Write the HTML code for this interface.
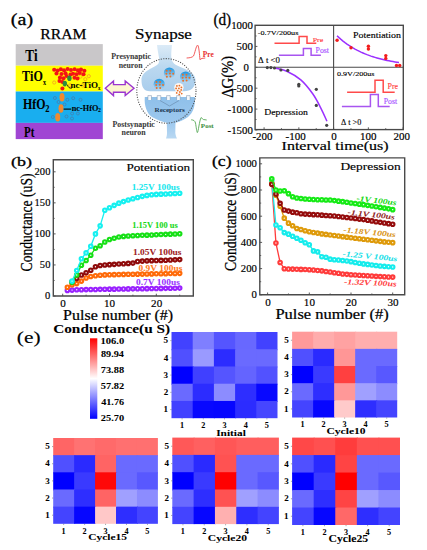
<!DOCTYPE html>
<html><head><meta charset="utf-8"><style>
html,body{margin:0;padding:0;background:#fff;}
svg{display:block;font-family:"Liberation Serif", serif;font-kerning:none;}
</style></head><body>
<svg xmlns="http://www.w3.org/2000/svg" width="427" height="550" viewBox="0 0 427 550">
<rect width="427" height="550" fill="#fff"/>
<text x="10.82" y="25.40" font-size="16.29" textLength="22.26" lengthAdjust="spacingAndGlyphs" stroke="#000" stroke-width="0.3" >(a)</text>
<text x="40.35" y="39.30" font-size="15.60" textLength="46.01" lengthAdjust="spacingAndGlyphs" stroke="#000" stroke-width="0.25" >RRAM</text>
<rect x="15.7" y="44.1" width="87.10" height="21.6" fill="#c9c7c9"/>
<rect x="15.7" y="65.7" width="87.10" height="25.8" fill="#ffff00"/>
<rect x="15.7" y="91.5" width="87.10" height="31.4" fill="#19aeef"/>
<rect x="15.7" y="122.9" width="87.10" height="16.2" fill="#a045d3"/>
<circle cx="54.2" cy="82.5" r="1.6" fill="none" stroke="#f5a020" stroke-width="0.8"/>
<circle cx="80.5" cy="76.6" r="1.6" fill="none" stroke="#f5a020" stroke-width="0.8"/>
<circle cx="85.3" cy="79.2" r="1.6" fill="none" stroke="#f5a020" stroke-width="0.8"/>
<circle cx="88.8" cy="76.2" r="1.6" fill="none" stroke="#f5a020" stroke-width="0.8"/>
<circle cx="70.2" cy="85.2" r="1.6" fill="none" stroke="#f5a020" stroke-width="0.8"/>
<circle cx="82.5" cy="85.5" r="1.6" fill="none" stroke="#f5a020" stroke-width="0.8"/>
<circle cx="60" cy="79.5" r="1.6" fill="none" stroke="#f5a020" stroke-width="0.8"/>
<circle cx="54.2" cy="69.8" r="2.05" fill="#f41414"/>
<circle cx="57.7" cy="70.5" r="2.05" fill="#f41414"/>
<circle cx="60.8" cy="69.2" r="2.05" fill="#f41414"/>
<circle cx="64" cy="70.2" r="2.05" fill="#f41414"/>
<circle cx="67.6" cy="69.0" r="2.05" fill="#f41414"/>
<circle cx="71" cy="70.0" r="2.05" fill="#f41414"/>
<circle cx="74.6" cy="69.3" r="2.05" fill="#f41414"/>
<circle cx="78" cy="70.4" r="2.05" fill="#f41414"/>
<circle cx="81" cy="69.6" r="2.05" fill="#f41414"/>
<circle cx="84.4" cy="70.8" r="2.05" fill="#f41414"/>
<circle cx="56.5" cy="73.5" r="2.05" fill="#f41414"/>
<circle cx="61.5" cy="74.0" r="2.05" fill="#f41414"/>
<circle cx="65.5" cy="73.2" r="2.05" fill="#f41414"/>
<circle cx="73" cy="73.8" r="2.05" fill="#f41414"/>
<circle cx="76.5" cy="74.3" r="2.05" fill="#f41414"/>
<circle cx="79.8" cy="73.0" r="2.05" fill="#f41414"/>
<circle cx="83.5" cy="74.2" r="2.05" fill="#f41414"/>
<circle cx="60" cy="77.5" r="2.05" fill="#f41414"/>
<circle cx="63.5" cy="78.2" r="2.05" fill="#f41414"/>
<circle cx="74.5" cy="77.8" r="2.05" fill="#f41414"/>
<circle cx="77.5" cy="78.5" r="2.05" fill="#f41414"/>
<circle cx="59.5" cy="81.0" r="2.05" fill="#f41414"/>
<circle cx="62.5" cy="82.0" r="2.05" fill="#f41414"/>
<circle cx="62.4" cy="88.5" r="2.05" fill="#f41414"/>
<circle cx="66.5" cy="76.0" r="2.05" fill="#f41414"/>
<circle cx="70.5" cy="74.5" r="2.05" fill="#f41414"/>
<ellipse cx="69.4" cy="78.3" rx="2.2" ry="2.8" fill="#2e8b3e"/>
<ellipse cx="64.8" cy="83.6" rx="2.2" ry="2.8" fill="#2e8b3e"/>
<circle cx="54.9" cy="98" r="1.5" fill="none" stroke="#52709a" stroke-width="0.6"/>
<circle cx="67.4" cy="99.8" r="1.5" fill="none" stroke="#52709a" stroke-width="0.6"/>
<circle cx="73.2" cy="98.2" r="1.5" fill="none" stroke="#52709a" stroke-width="0.6"/>
<circle cx="80.5" cy="99.8" r="1.5" fill="none" stroke="#52709a" stroke-width="0.6"/>
<circle cx="72.1" cy="113.5" r="1.5" fill="none" stroke="#52709a" stroke-width="0.6"/>
<circle cx="77.9" cy="113.5" r="1.5" fill="none" stroke="#52709a" stroke-width="0.6"/>
<circle cx="52.8" cy="117" r="1.5" fill="none" stroke="#52709a" stroke-width="0.6"/>
<circle cx="60.5" cy="110.5" r="1.5" fill="none" stroke="#52709a" stroke-width="0.6"/>
<circle cx="66.5" cy="116.5" r="1.5" fill="none" stroke="#52709a" stroke-width="0.6"/>
<circle cx="72.0" cy="118.5" r="1.5" fill="none" stroke="#52709a" stroke-width="0.6"/>
<circle cx="58.5" cy="102.0" r="1.5" fill="none" stroke="#52709a" stroke-width="0.6"/>
<circle cx="64.5" cy="104.5" r="1.5" fill="none" stroke="#52709a" stroke-width="0.6"/>
<ellipse cx="62.0" cy="97.2" rx="2.5" ry="4.2" fill="#f08a30"/>
<ellipse cx="61.0" cy="108.5" rx="2.5" ry="4.2" fill="#f08a30"/>
<ellipse cx="57.7" cy="117.3" rx="2.5" ry="4.2" fill="#f08a30"/>
<text x="25.19" y="61.20" font-size="16.14" textLength="12.40" lengthAdjust="spacingAndGlyphs" font-weight="bold" stroke="#000" stroke-width="0.097" >Ti</text>
<text x="22.01" y="81.20" font-size="13.84" textLength="20.78" lengthAdjust="spacingAndGlyphs" font-weight="bold" stroke="#000" stroke-width="0.083" >TiO</text>
<text x="43.08" y="84.70" font-size="8.93" textLength="3.06" lengthAdjust="spacingAndGlyphs" font-weight="bold" stroke="#000" stroke-width="0.054" >x</text>
<text x="23.00" y="108.60" font-size="13.78" textLength="22.48" lengthAdjust="spacingAndGlyphs" font-weight="bold" stroke="#000" stroke-width="0.083" >HfO</text>
<text x="45.35" y="111.70" font-size="9.52" textLength="4.22" lengthAdjust="spacingAndGlyphs" font-weight="bold" stroke="#000" stroke-width="0.057" >2</text>
<text x="24.11" y="136.50" font-size="13.90" textLength="10.34" lengthAdjust="spacingAndGlyphs" font-weight="bold" stroke="#000" stroke-width="0.083" >Pt</text>
<text x="70.56" y="88.30" font-size="9.08" textLength="27.48" lengthAdjust="spacingAndGlyphs" font-weight="bold" stroke="#000" stroke-width="0.054" >nc-TiO</text>
<text x="97.98" y="90.20" font-size="5.45" textLength="2.45" lengthAdjust="spacingAndGlyphs" font-weight="bold" stroke="#000" stroke-width="0.033" >x</text>
<text x="71.78" y="110.70" font-size="8.24" textLength="26.52" lengthAdjust="spacingAndGlyphs" font-weight="bold" stroke="#000" stroke-width="0.049" >nc-HfO</text>
<text x="98.06" y="112.30" font-size="5.44" textLength="2.89" lengthAdjust="spacingAndGlyphs" font-weight="bold" stroke="#000" stroke-width="0.033" >2</text>
<path d="M67.3,84.6 Q68.3,88.6 71.8,88.2" fill="none" stroke="#000" stroke-width="0.8"/>
<line x1="63.6" y1="109.1" x2="71.3" y2="109.1" stroke="#000" stroke-width="1.1"/>
<path d="M105.3,88.3 L113.5,81 L113.5,84.6 L125.2,84.6 L125.2,81 L134,88.3 L125.2,95.6 L125.2,92.2 L113.5,92.2 L113.5,95.6 Z" fill="#fdf7cf" stroke="#9b35d0" stroke-width="1.4" stroke-linejoin="miter"/>
<text x="135.06" y="39.00" font-size="15.56" textLength="56.83" lengthAdjust="spacingAndGlyphs" stroke="#000" stroke-width="0.249" >Synapse</text>
<defs><linearGradient id="preg" x1="0" y1="0" x2="0" y2="1"><stop offset="0" stop-color="#dcebf7"/><stop offset="0.45" stop-color="#bcd9f0"/><stop offset="1" stop-color="#a9cdec"/></linearGradient><linearGradient id="postg" x1="0" y1="0" x2="0" y2="1"><stop offset="0" stop-color="#8fc0ea"/><stop offset="0.6" stop-color="#9cc8ee"/><stop offset="1" stop-color="#b9d8f2"/></linearGradient><linearGradient id="ves" x1="0" y1="0" x2="0" y2="1"><stop offset="0" stop-color="#1a94de"/><stop offset="0.45" stop-color="#62b4ea"/><stop offset="1" stop-color="#b4d8f2"/></linearGradient></defs>
<path d="M157,45 L172,45 C171,55 170.5,60 174,63.5 C180,68.5 195.5,70 195.5,80 C195.5,87.5 191,91.3 184,91.3 L150,91.3 C143.5,91.3 141.5,86.5 141.5,80 C141.5,70 154.5,68.5 158.5,63.5 C160.5,60 158,55 157,45 Z" fill="url(#preg)"/>
<path d="M144.8,97 L194.8,97 C195.5,106 193,113 188,117 C184,120 179,122 175.5,122.8 L175.3,133 C175.6,135 176.2,137 177,138.5 L166,138.5 C166.6,137 167,135 167,133 L166.8,122.8 C163,122 157,120 152,117 C147,113.5 144,106 144.8,97 Z" fill="url(#postg)"/>
<path d="M147.89999999999998,100 L147.89999999999998,95.6 L151.5,95.6 L151.5,100" fill="#f4f8fc" stroke="#7a8ea6" stroke-width="0.5"/>
<path d="M157.2,100 L157.2,95.6 L160.8,95.6 L160.8,100" fill="#f4f8fc" stroke="#7a8ea6" stroke-width="0.5"/>
<path d="M166.6,100 L166.6,95.6 L170.20000000000002,95.6 L170.20000000000002,100" fill="#f4f8fc" stroke="#7a8ea6" stroke-width="0.5"/>
<path d="M176.6,100 L176.6,95.6 L180.20000000000002,95.6 L180.20000000000002,100" fill="#f4f8fc" stroke="#7a8ea6" stroke-width="0.5"/>
<path d="M186.5,100 L186.5,95.6 L190.10000000000002,95.6 L190.10000000000002,100" fill="#f4f8fc" stroke="#7a8ea6" stroke-width="0.5"/>
<path d="M160,100.5 L169.5,106 L179,100.5" fill="none" stroke="#5a7898" stroke-width="0.5"/>
<circle cx="169.4" cy="73.0" r="5.6" fill="url(#ves)"/>
<circle cx="166.70" cy="70.70" r="1.0" fill="#e8702a"/>
<circle cx="170.30" cy="70.70" r="1.0" fill="#e8702a"/>
<circle cx="166.40" cy="73.70" r="1.0" fill="#e8702a"/>
<circle cx="169.90" cy="73.40" r="1.0" fill="#e8702a"/>
<circle cx="173.20" cy="73.70" r="1.0" fill="#e8702a"/>
<circle cx="166.90" cy="76.80" r="1.0" fill="#e8702a"/>
<circle cx="170.40" cy="76.60" r="1.0" fill="#e8702a"/>
<circle cx="185.6" cy="77.0" r="5.6" fill="url(#ves)"/>
<circle cx="182.90" cy="74.70" r="1.0" fill="#e8702a"/>
<circle cx="186.50" cy="74.70" r="1.0" fill="#e8702a"/>
<circle cx="182.60" cy="77.70" r="1.0" fill="#e8702a"/>
<circle cx="186.10" cy="77.40" r="1.0" fill="#e8702a"/>
<circle cx="189.40" cy="77.70" r="1.0" fill="#e8702a"/>
<circle cx="183.10" cy="80.80" r="1.0" fill="#e8702a"/>
<circle cx="186.60" cy="80.60" r="1.0" fill="#e8702a"/>
<circle cx="159.2" cy="84.3" r="5.6" fill="url(#ves)"/>
<circle cx="156.50" cy="82.00" r="1.0" fill="#e8702a"/>
<circle cx="160.10" cy="82.00" r="1.0" fill="#e8702a"/>
<circle cx="156.20" cy="85.00" r="1.0" fill="#e8702a"/>
<circle cx="159.70" cy="84.70" r="1.0" fill="#e8702a"/>
<circle cx="163.00" cy="85.00" r="1.0" fill="#e8702a"/>
<circle cx="156.70" cy="88.10" r="1.0" fill="#e8702a"/>
<circle cx="160.20" cy="87.90" r="1.0" fill="#e8702a"/>
<circle cx="178.9" cy="87.6" r="4.7" fill="#fdf6f0"/>
<circle cx="176.90" cy="85.90" r="0.9" fill="#e8702a"/>
<circle cx="179.40" cy="85.60" r="0.9" fill="#e8702a"/>
<circle cx="181.40" cy="87.40" r="0.9" fill="#e8702a"/>
<circle cx="176.10" cy="88.40" r="0.9" fill="#e8702a"/>
<circle cx="178.90" cy="88.40" r="0.9" fill="#e8702a"/>
<circle cx="181.20" cy="89.90" r="0.9" fill="#e8702a"/>
<circle cx="177.70" cy="90.60" r="0.9" fill="#e8702a"/>
<circle cx="179.90" cy="92.00" r="0.9" fill="#e8702a"/>
<circle cx="176.70" cy="92.90" r="0.9" fill="#e8702a"/>
<circle cx="181.70" cy="93.60" r="0.9" fill="#e8702a"/>
<circle cx="179.20" cy="94.40" r="0.9" fill="#e8702a"/>
<ellipse cx="166.4" cy="90.9" rx="29.6" ry="32.3" fill="none" stroke="#4a4a4a" stroke-width="1.05" stroke-dasharray="1.1 1.4"/>
<text x="154.58" y="112.30" font-size="6.26" textLength="30.29" lengthAdjust="spacingAndGlyphs" font-weight="bold" fill="#1e3a56" stroke="#1e3a56" stroke-width="0.038" >Receptors</text>
<text x="111.27" y="58.50" font-size="7.64" textLength="39.63" lengthAdjust="spacingAndGlyphs" font-weight="bold" fill="#3a3a3a" stroke="#3a3a3a" stroke-width="0.046" >Presynaptic</text>
<text x="118.69" y="68.20" font-size="8.02" textLength="23.83" lengthAdjust="spacingAndGlyphs" font-weight="bold" fill="#3a3a3a" stroke="#3a3a3a" stroke-width="0.048" >neuron</text>
<text x="112.57" y="126.80" font-size="7.78" textLength="42.23" lengthAdjust="spacingAndGlyphs" font-weight="bold" fill="#3a3a3a" stroke="#3a3a3a" stroke-width="0.047" >Postsynaptic</text>
<text x="121.59" y="135.40" font-size="8.02" textLength="24.13" lengthAdjust="spacingAndGlyphs" font-weight="bold" fill="#3a3a3a" stroke="#3a3a3a" stroke-width="0.048" >neuron</text>
<path d="M186.6,58 C190,57.8 192,57.5 193.5,56 C195,53 196,46 197.6,45.1 C199,46 199.5,55 200,59.8 C200.5,59.5 201,58.5 202,58.4 L205.3,58" fill="none" stroke="#f04848" stroke-width="0.9"/>
<text x="202.87" y="56.50" font-size="7.79" textLength="11.02" lengthAdjust="spacingAndGlyphs" font-weight="bold" fill="#e83030" stroke="#e83030" stroke-width="0.047" >Pre</text>
<path d="M191.2,119.8 C193.5,120 194.8,120.5 195.5,123 C196.2,127 196.8,132.6 197.4,132.6 C198.2,132.6 199.5,120 201.1,117.6 C202,118 202.8,119.2 203.4,119.5 L206.7,120" fill="none" stroke="#55a855" stroke-width="0.9"/>
<text x="200.88" y="128.00" font-size="5.80" textLength="12.85" lengthAdjust="spacingAndGlyphs" font-weight="bold" fill="#3d8f3d" stroke="#3d8f3d" stroke-width="0.035" >Post</text>
<rect x="255.1" y="25.3" width="148.20" height="104.30" fill="none" stroke="#4a4a4a" stroke-width="1.4"/>
<line x1="333.60" y1="25.3" x2="333.60" y2="129.6" stroke="#4a4a4a" stroke-width="1.1"/>
<line x1="255.1" y1="67.30" x2="403.3" y2="67.30" stroke="#4a4a4a" stroke-width="1.1"/>
<text x="213.43" y="24.90" font-size="16.00" textLength="17.74" lengthAdjust="spacingAndGlyphs" stroke="#000" stroke-width="0.3" >(d)</text>
<line x1="255.1" y1="25.52" x2="257.40" y2="25.52" stroke="#4a4a4a" stroke-width="0.9"/>
<text x="231.16" y="29.12" font-size="10.83" textLength="21.65" lengthAdjust="spacingAndGlyphs" stroke="#000" stroke-width="0.173" >1000</text>
<line x1="255.1" y1="46.41" x2="257.40" y2="46.41" stroke="#4a4a4a" stroke-width="0.9"/>
<text x="236.57" y="50.01" font-size="10.83" textLength="16.24" lengthAdjust="spacingAndGlyphs" stroke="#000" stroke-width="0.173" >500</text>
<line x1="255.1" y1="67.30" x2="257.40" y2="67.30" stroke="#4a4a4a" stroke-width="0.9"/>
<text x="243.40" y="70.90" font-size="10.83" textLength="5.41" lengthAdjust="spacingAndGlyphs" stroke="#000" stroke-width="0.173" >0</text>
<line x1="255.1" y1="88.19" x2="257.40" y2="88.19" stroke="#4a4a4a" stroke-width="0.9"/>
<text x="232.97" y="91.79" font-size="10.83" textLength="19.84" lengthAdjust="spacingAndGlyphs" stroke="#000" stroke-width="0.173" >-500</text>
<line x1="255.1" y1="109.08" x2="257.40" y2="109.08" stroke="#4a4a4a" stroke-width="0.9"/>
<text x="227.55" y="112.68" font-size="10.83" textLength="25.26" lengthAdjust="spacingAndGlyphs" stroke="#000" stroke-width="0.173" >-1000</text>
<line x1="255.1" y1="129.97" x2="257.40" y2="129.97" stroke="#4a4a4a" stroke-width="0.9"/>
<text x="227.55" y="133.57" font-size="10.83" textLength="25.26" lengthAdjust="spacingAndGlyphs" stroke="#000" stroke-width="0.173" >-1500</text>
<line x1="255.1" y1="35.97" x2="256.60" y2="35.97" stroke="#4a4a4a" stroke-width="0.8"/>
<line x1="255.1" y1="56.85" x2="256.60" y2="56.85" stroke="#4a4a4a" stroke-width="0.8"/>
<line x1="255.1" y1="77.75" x2="256.60" y2="77.75" stroke="#4a4a4a" stroke-width="0.8"/>
<line x1="255.1" y1="98.63" x2="256.60" y2="98.63" stroke="#4a4a4a" stroke-width="0.8"/>
<line x1="255.1" y1="119.52" x2="256.60" y2="119.52" stroke="#4a4a4a" stroke-width="0.8"/>
<line x1="264.10" y1="129.6" x2="264.10" y2="127.30" stroke="#4a4a4a" stroke-width="0.9"/>
<text x="252.45" y="139.50" font-size="10.98" textLength="20.12" lengthAdjust="spacingAndGlyphs" stroke="#000" stroke-width="0.176" >-200</text>
<line x1="298.85" y1="129.6" x2="298.85" y2="127.30" stroke="#4a4a4a" stroke-width="0.9"/>
<text x="285.55" y="139.50" font-size="10.98" textLength="20.12" lengthAdjust="spacingAndGlyphs" stroke="#000" stroke-width="0.176" >-100</text>
<line x1="333.60" y1="129.6" x2="333.60" y2="127.30" stroke="#4a4a4a" stroke-width="0.9"/>
<text x="331.36" y="139.50" font-size="10.98" textLength="5.49" lengthAdjust="spacingAndGlyphs" stroke="#000" stroke-width="0.176" >0</text>
<line x1="368.35" y1="129.6" x2="368.35" y2="127.30" stroke="#4a4a4a" stroke-width="0.9"/>
<text x="360.09" y="139.50" font-size="10.98" textLength="16.47" lengthAdjust="spacingAndGlyphs" stroke="#000" stroke-width="0.176" >100</text>
<line x1="403.10" y1="129.6" x2="403.10" y2="127.30" stroke="#4a4a4a" stroke-width="0.9"/>
<text x="393.54" y="139.50" font-size="10.98" textLength="16.47" lengthAdjust="spacingAndGlyphs" stroke="#000" stroke-width="0.176" >200</text>
<line x1="281.48" y1="129.6" x2="281.48" y2="128.10" stroke="#4a4a4a" stroke-width="0.8"/>
<line x1="316.23" y1="129.6" x2="316.23" y2="128.10" stroke="#4a4a4a" stroke-width="0.8"/>
<line x1="350.98" y1="129.6" x2="350.98" y2="128.10" stroke="#4a4a4a" stroke-width="0.8"/>
<line x1="385.73" y1="129.6" x2="385.73" y2="128.10" stroke="#4a4a4a" stroke-width="0.8"/>
<text x="281.62" y="150.10" font-size="12.68" textLength="106.98" lengthAdjust="spacingAndGlyphs" stroke="#000" stroke-width="0.203" >Interval time(us)</text>
<text transform="translate(232.90 97.30) rotate(-90)" x="-0.56" y="0" font-size="15.85" textLength="42.11" lengthAdjust="spacingAndGlyphs" fill="#000" stroke="#000" stroke-width="0.254">ΔG(%)</text>
<text x="257.80" y="34.80" font-size="6.62" textLength="40.60" lengthAdjust="spacingAndGlyphs" stroke="#000" stroke-width="0.106" >-0.7V/200us</text>
<path d="M274.5,43.3 L299.1,43.3 L299.1,36.6 L307,36.6 L307,43.3 L316.3,43.3" fill="none" stroke="#ff4a4a" stroke-width="1.5"/>
<path d="M278.9,55.2 L303.4,55.2 L303.4,48.5 L311.1,48.5 L311.1,55.2 L320.9,55.2" fill="none" stroke="#a855f0" stroke-width="1.5"/>
<text x="312.67" y="41.80" font-size="7.03" textLength="10.61" lengthAdjust="spacingAndGlyphs" fill="#ff3a3a" stroke="#ff3a3a" stroke-width="0.112" >Pre</text>
<text x="315.57" y="53.40" font-size="7.48" textLength="13.47" lengthAdjust="spacingAndGlyphs" fill="#a64dff" stroke="#a64dff" stroke-width="0.12" >Post</text>
<text x="258.06" y="63.10" font-size="7.22" textLength="21.97" lengthAdjust="spacingAndGlyphs" stroke="#000" stroke-width="0.115" >Δ t &lt;0</text>
<text x="353.11" y="38.20" font-size="9.06" textLength="47.83" lengthAdjust="spacingAndGlyphs" stroke="#000" stroke-width="0.145" >Potentiation</text>
<path d="M337.00,35.81 L339.00,37.66 L341.00,39.41 L343.00,41.06 L345.00,42.60 L347.00,44.06 L349.00,45.43 L351.00,46.72 L353.00,47.94 L355.00,49.08 L357.00,50.15 L359.00,51.16 L361.00,52.12 L363.00,53.01 L365.00,53.85 L367.00,54.65 L369.00,55.39 L371.00,56.10 L373.00,56.76 L375.00,57.38 L377.00,57.96 L379.00,58.51 L381.00,59.03 L383.00,59.52 L385.00,59.98 L387.00,60.41 L389.00,60.82 L391.00,61.20 L393.00,61.56 L395.00,61.90 L397.00,62.22 L399.00,62.52" fill="none" stroke="#9b30ff" stroke-width="1.5"/>
<circle cx="337.1" cy="40.2" r="1.7" fill="#f21c1c"/>
<circle cx="351" cy="47.7" r="1.7" fill="#f21c1c"/>
<circle cx="368.4" cy="46.2" r="1.7" fill="#f21c1c"/>
<circle cx="368.4" cy="49" r="1.7" fill="#f21c1c"/>
<circle cx="385.8" cy="55.6" r="1.7" fill="#f21c1c"/>
<circle cx="385.8" cy="58.4" r="1.7" fill="#f21c1c"/>
<circle cx="396.5" cy="65.5" r="1.7" fill="#f21c1c"/>
<circle cx="399.7" cy="65.5" r="1.7" fill="#f21c1c"/>
<text x="264.32" y="114.70" font-size="8.91" textLength="43.53" lengthAdjust="spacingAndGlyphs" stroke="#000" stroke-width="0.143" >Depression</text>
<path d="M274.90,68.00 C276.88,68.53 282.48,69.22 286.80,71.20 C291.12,73.18 296.48,76.13 300.80,79.90 C305.12,83.67 309.38,89.15 312.70,93.80 C316.02,98.45 318.32,103.22 320.70,107.80 C323.08,112.38 325.95,119.05 327.00,121.30" fill="none" stroke="#9b30ff" stroke-width="1.5"/>
<circle cx="267.3" cy="67.6" r="1.6" fill="#444"/>
<circle cx="270.9" cy="67.6" r="1.6" fill="#444"/>
<circle cx="274.5" cy="68" r="1.6" fill="#444"/>
<circle cx="280.9" cy="70" r="1.6" fill="#444"/>
<circle cx="287.8" cy="70.4" r="1.6" fill="#444"/>
<circle cx="298.8" cy="84.3" r="1.6" fill="#444"/>
<circle cx="298.8" cy="85.9" r="1.6" fill="#444"/>
<circle cx="316.3" cy="89.3" r="1.6" fill="#444"/>
<circle cx="316.3" cy="105.4" r="1.6" fill="#444"/>
<circle cx="326.7" cy="125.3" r="1.6" fill="#444"/>
<text x="336.99" y="76.20" font-size="6.17" textLength="37.50" lengthAdjust="spacingAndGlyphs" stroke="#000" stroke-width="0.099" >0.9V/200us</text>
<path d="M347.1,92.3 L375,92.3 L375,80.3 L383.2,80.3 L383.2,92.3 L394.7,92.3" fill="none" stroke="#ff4a4a" stroke-width="1.5"/>
<path d="M341.9,106.5 L370.4,106.5 L370.4,94.6 L378.3,94.6 L378.3,106.5 L389.7,106.5" fill="none" stroke="#a855f0" stroke-width="1.5"/>
<text x="387.57" y="88.50" font-size="7.48" textLength="10.60" lengthAdjust="spacingAndGlyphs" fill="#ff3a3a" stroke="#ff3a3a" stroke-width="0.12" >Pre</text>
<text x="383.78" y="104.40" font-size="7.48" textLength="13.37" lengthAdjust="spacingAndGlyphs" fill="#a64dff" stroke="#a64dff" stroke-width="0.12" >Post</text>
<text x="340.99" y="124.70" font-size="7.37" textLength="20.32" lengthAdjust="spacingAndGlyphs" stroke="#000" stroke-width="0.118" >Δ t &gt;0</text>
<text x="10.91" y="166.30" font-size="13.40" textLength="20.98" lengthAdjust="spacingAndGlyphs" stroke="#000" stroke-width="0.3" >(b)</text>
<path d="M53.3,159.7 L193.3,159.7 L193.3,296.0 L53.3,296.0 Z" fill="none" stroke="#4a4a4a" stroke-width="1.4"/>
<line x1="53.3" y1="296.00" x2="55.60" y2="296.00" stroke="#4a4a4a" stroke-width="0.9"/>
<text x="45.14" y="299.20" font-size="9.92" textLength="5.26" lengthAdjust="spacingAndGlyphs" stroke="#000" stroke-width="0.159" >0</text>
<line x1="53.3" y1="264.95" x2="55.60" y2="264.95" stroke="#4a4a4a" stroke-width="0.9"/>
<text x="39.88" y="268.15" font-size="9.92" textLength="10.52" lengthAdjust="spacingAndGlyphs" stroke="#000" stroke-width="0.159" >50</text>
<line x1="53.3" y1="233.90" x2="55.60" y2="233.90" stroke="#4a4a4a" stroke-width="0.9"/>
<text x="34.62" y="237.10" font-size="9.92" textLength="15.78" lengthAdjust="spacingAndGlyphs" stroke="#000" stroke-width="0.159" >100</text>
<line x1="53.3" y1="202.85" x2="55.60" y2="202.85" stroke="#4a4a4a" stroke-width="0.9"/>
<text x="34.62" y="206.05" font-size="9.92" textLength="15.78" lengthAdjust="spacingAndGlyphs" stroke="#000" stroke-width="0.159" >150</text>
<line x1="53.3" y1="171.80" x2="55.60" y2="171.80" stroke="#4a4a4a" stroke-width="0.9"/>
<text x="34.62" y="175.00" font-size="9.92" textLength="15.78" lengthAdjust="spacingAndGlyphs" stroke="#000" stroke-width="0.159" >200</text>
<line x1="53.3" y1="280.48" x2="54.70" y2="280.48" stroke="#4a4a4a" stroke-width="0.8"/>
<line x1="53.3" y1="249.43" x2="54.70" y2="249.43" stroke="#4a4a4a" stroke-width="0.8"/>
<line x1="53.3" y1="218.38" x2="54.70" y2="218.38" stroke="#4a4a4a" stroke-width="0.8"/>
<line x1="53.3" y1="187.32" x2="54.70" y2="187.32" stroke="#4a4a4a" stroke-width="0.8"/>
<line x1="62.70" y1="296.0" x2="62.70" y2="293.70" stroke="#4a4a4a" stroke-width="0.9"/>
<text x="60.33" y="306.90" font-size="10.07" textLength="5.54" lengthAdjust="spacingAndGlyphs" stroke="#000" stroke-width="0.161" >0</text>
<line x1="109.50" y1="296.0" x2="109.50" y2="293.70" stroke="#4a4a4a" stroke-width="0.9"/>
<text x="104.08" y="306.90" font-size="10.07" textLength="11.08" lengthAdjust="spacingAndGlyphs" stroke="#000" stroke-width="0.161" >10</text>
<line x1="156.30" y1="296.0" x2="156.30" y2="293.70" stroke="#4a4a4a" stroke-width="0.9"/>
<text x="151.13" y="306.90" font-size="10.07" textLength="11.08" lengthAdjust="spacingAndGlyphs" stroke="#000" stroke-width="0.161" >20</text>
<line x1="86.10" y1="296.0" x2="86.10" y2="294.60" stroke="#4a4a4a" stroke-width="0.8"/>
<line x1="132.90" y1="296.0" x2="132.90" y2="294.60" stroke="#4a4a4a" stroke-width="0.8"/>
<line x1="179.70" y1="296.0" x2="179.70" y2="294.60" stroke="#4a4a4a" stroke-width="0.8"/>
<text x="63.14" y="320.10" font-size="15.28" textLength="109.96" lengthAdjust="spacingAndGlyphs" stroke="#000" stroke-width="0.244" >Pulse number (#)</text>
<text transform="translate(31.50 270.90) rotate(-90)" x="-0.56" y="0" font-size="16.72" textLength="97.96" lengthAdjust="spacingAndGlyphs" fill="#000" stroke="#000" stroke-width="0.267">Conductance (uS)</text>
<text x="126.42" y="170.60" font-size="10.72" textLength="63.68" lengthAdjust="spacingAndGlyphs" stroke="#000" stroke-width="0.15" >Potentiation</text>
<path d="M67.38,290.41 L72.06,290.10 L76.74,289.79 L81.42,289.79 L86.10,289.60 L90.78,289.48 L95.46,289.48 L100.14,289.36 L104.82,289.29 L109.50,289.17 L114.18,289.17 L118.86,289.04 L123.54,288.98 L128.22,288.92 L132.90,288.86 L137.58,288.80 L142.26,288.73 L146.94,288.67 L151.62,288.55 L156.30,288.49 L160.98,288.42 L165.66,288.36 L170.34,288.30 L175.02,288.18 L179.70,288.11" fill="none" stroke="#9a22ff" stroke-width="1.3"/>
<g fill="#fff" stroke="#9a22ff" stroke-width="2.1"><circle cx="67.38" cy="290.41" r="1.75"/><circle cx="72.06" cy="290.10" r="1.75"/><circle cx="76.74" cy="289.79" r="1.75"/><circle cx="81.42" cy="289.79" r="1.75"/><circle cx="86.10" cy="289.60" r="1.75"/><circle cx="90.78" cy="289.48" r="1.75"/><circle cx="95.46" cy="289.48" r="1.75"/><circle cx="100.14" cy="289.36" r="1.75"/><circle cx="104.82" cy="289.29" r="1.75"/><circle cx="109.50" cy="289.17" r="1.75"/><circle cx="114.18" cy="289.17" r="1.75"/><circle cx="118.86" cy="289.04" r="1.75"/><circle cx="123.54" cy="288.98" r="1.75"/><circle cx="128.22" cy="288.92" r="1.75"/><circle cx="132.90" cy="288.86" r="1.75"/><circle cx="137.58" cy="288.80" r="1.75"/><circle cx="142.26" cy="288.73" r="1.75"/><circle cx="146.94" cy="288.67" r="1.75"/><circle cx="151.62" cy="288.55" r="1.75"/><circle cx="156.30" cy="288.49" r="1.75"/><circle cx="160.98" cy="288.42" r="1.75"/><circle cx="165.66" cy="288.36" r="1.75"/><circle cx="170.34" cy="288.30" r="1.75"/><circle cx="175.02" cy="288.18" r="1.75"/><circle cx="179.70" cy="288.11" r="1.75"/></g>
<path d="M67.38,287.31 L72.06,284.82 L76.74,283.58 L81.42,281.10 L86.10,277.99 L90.78,276.44 L95.46,275.69 L100.14,275.20 L104.82,274.89 L109.50,274.76 L114.18,274.64 L118.86,274.51 L123.54,274.39 L128.22,274.26 L132.90,274.20 L137.58,274.14 L142.26,274.08 L146.94,273.95 L151.62,273.89 L156.30,273.77 L160.98,273.71 L165.66,273.64 L170.34,273.52 L175.02,273.46 L179.70,273.33" fill="none" stroke="#ff6a08" stroke-width="1.3"/>
<g fill="#fff" stroke="#ff6a08" stroke-width="2.1"><circle cx="67.38" cy="287.31" r="1.75"/><circle cx="72.06" cy="284.82" r="1.75"/><circle cx="76.74" cy="283.58" r="1.75"/><circle cx="81.42" cy="281.10" r="1.75"/><circle cx="86.10" cy="277.99" r="1.75"/><circle cx="90.78" cy="276.44" r="1.75"/><circle cx="95.46" cy="275.69" r="1.75"/><circle cx="100.14" cy="275.20" r="1.75"/><circle cx="104.82" cy="274.89" r="1.75"/><circle cx="109.50" cy="274.76" r="1.75"/><circle cx="114.18" cy="274.64" r="1.75"/><circle cx="118.86" cy="274.51" r="1.75"/><circle cx="123.54" cy="274.39" r="1.75"/><circle cx="128.22" cy="274.26" r="1.75"/><circle cx="132.90" cy="274.20" r="1.75"/><circle cx="137.58" cy="274.14" r="1.75"/><circle cx="142.26" cy="274.08" r="1.75"/><circle cx="146.94" cy="273.95" r="1.75"/><circle cx="151.62" cy="273.89" r="1.75"/><circle cx="156.30" cy="273.77" r="1.75"/><circle cx="160.98" cy="273.71" r="1.75"/><circle cx="165.66" cy="273.64" r="1.75"/><circle cx="170.34" cy="273.52" r="1.75"/><circle cx="175.02" cy="273.46" r="1.75"/><circle cx="179.70" cy="273.33" r="1.75"/></g>
<path d="M72.06,281.72 L76.74,278.61 L81.42,275.07 L86.10,272.77 L90.78,270.23 L95.46,266.69 L100.14,265.57 L104.82,264.95 L109.50,264.64 L114.18,264.33 L118.86,264.02 L123.54,263.71 L128.22,263.40 L132.90,263.09 L137.58,261.53 L142.26,261.10 L146.94,260.85 L151.62,260.67 L156.30,260.54 L160.98,260.42 L165.66,260.23 L170.34,260.04 L175.02,259.86 L179.70,259.61" fill="none" stroke="#8e0b0b" stroke-width="1.3"/>
<g fill="#fff" stroke="#8e0b0b" stroke-width="2.1"><circle cx="72.06" cy="281.72" r="1.75"/><circle cx="76.74" cy="278.61" r="1.75"/><circle cx="81.42" cy="275.07" r="1.75"/><circle cx="86.10" cy="272.77" r="1.75"/><circle cx="90.78" cy="270.23" r="1.75"/><circle cx="95.46" cy="266.69" r="1.75"/><circle cx="100.14" cy="265.57" r="1.75"/><circle cx="104.82" cy="264.95" r="1.75"/><circle cx="109.50" cy="264.64" r="1.75"/><circle cx="114.18" cy="264.33" r="1.75"/><circle cx="118.86" cy="264.02" r="1.75"/><circle cx="123.54" cy="263.71" r="1.75"/><circle cx="128.22" cy="263.40" r="1.75"/><circle cx="132.90" cy="263.09" r="1.75"/><circle cx="137.58" cy="261.53" r="1.75"/><circle cx="142.26" cy="261.10" r="1.75"/><circle cx="146.94" cy="260.85" r="1.75"/><circle cx="151.62" cy="260.67" r="1.75"/><circle cx="156.30" cy="260.54" r="1.75"/><circle cx="160.98" cy="260.42" r="1.75"/><circle cx="165.66" cy="260.23" r="1.75"/><circle cx="170.34" cy="260.04" r="1.75"/><circle cx="175.02" cy="259.86" r="1.75"/><circle cx="179.70" cy="259.61" r="1.75"/></g>
<path d="M72.06,282.34 L76.74,275.07 L81.42,265.20 L86.10,260.48 L90.78,255.20 L95.46,248.18 L100.14,245.70 L104.82,241.97 L109.50,239.49 L114.18,238.25 L118.86,237.00 L123.54,236.38 L128.22,236.07 L132.90,235.76 L137.58,235.45 L142.26,235.27 L146.94,235.14 L151.62,234.96 L156.30,234.77 L160.98,234.52 L165.66,234.33 L170.34,234.15 L175.02,233.96 L179.70,233.78" fill="none" stroke="#16e016" stroke-width="1.3"/>
<g fill="#fff" stroke="#16e016" stroke-width="2.1"><circle cx="72.06" cy="282.34" r="1.75"/><circle cx="76.74" cy="275.07" r="1.75"/><circle cx="81.42" cy="265.20" r="1.75"/><circle cx="86.10" cy="260.48" r="1.75"/><circle cx="90.78" cy="255.20" r="1.75"/><circle cx="95.46" cy="248.18" r="1.75"/><circle cx="100.14" cy="245.70" r="1.75"/><circle cx="104.82" cy="241.97" r="1.75"/><circle cx="109.50" cy="239.49" r="1.75"/><circle cx="114.18" cy="238.25" r="1.75"/><circle cx="118.86" cy="237.00" r="1.75"/><circle cx="123.54" cy="236.38" r="1.75"/><circle cx="128.22" cy="236.07" r="1.75"/><circle cx="132.90" cy="235.76" r="1.75"/><circle cx="137.58" cy="235.45" r="1.75"/><circle cx="142.26" cy="235.27" r="1.75"/><circle cx="146.94" cy="235.14" r="1.75"/><circle cx="151.62" cy="234.96" r="1.75"/><circle cx="156.30" cy="234.77" r="1.75"/><circle cx="160.98" cy="234.52" r="1.75"/><circle cx="165.66" cy="234.33" r="1.75"/><circle cx="170.34" cy="234.15" r="1.75"/><circle cx="175.02" cy="233.96" r="1.75"/><circle cx="179.70" cy="233.78" r="1.75"/></g>
<path d="M72.06,281.10 L76.74,270.54 L81.42,258.74 L86.10,252.90 L90.78,246.32 L95.46,233.90 L100.14,225.83 L104.82,210.30 L109.50,207.82 L114.18,205.33 L118.86,203.16 L123.54,201.61 L128.22,200.06 L132.90,198.81 L137.58,197.57 L142.26,196.33 L146.94,195.40 L151.62,194.78 L156.30,194.40 L160.98,194.16 L165.66,193.97 L170.34,193.78 L175.02,193.53 L179.70,193.29" fill="none" stroke="#16f0f0" stroke-width="1.3"/>
<g fill="#fff" stroke="#16f0f0" stroke-width="2.1"><circle cx="72.06" cy="281.10" r="1.75"/><circle cx="76.74" cy="270.54" r="1.75"/><circle cx="81.42" cy="258.74" r="1.75"/><circle cx="86.10" cy="252.90" r="1.75"/><circle cx="90.78" cy="246.32" r="1.75"/><circle cx="95.46" cy="233.90" r="1.75"/><circle cx="100.14" cy="225.83" r="1.75"/><circle cx="104.82" cy="210.30" r="1.75"/><circle cx="109.50" cy="207.82" r="1.75"/><circle cx="114.18" cy="205.33" r="1.75"/><circle cx="118.86" cy="203.16" r="1.75"/><circle cx="123.54" cy="201.61" r="1.75"/><circle cx="128.22" cy="200.06" r="1.75"/><circle cx="132.90" cy="198.81" r="1.75"/><circle cx="137.58" cy="197.57" r="1.75"/><circle cx="142.26" cy="196.33" r="1.75"/><circle cx="146.94" cy="195.40" r="1.75"/><circle cx="151.62" cy="194.78" r="1.75"/><circle cx="156.30" cy="194.40" r="1.75"/><circle cx="160.98" cy="194.16" r="1.75"/><circle cx="165.66" cy="193.97" r="1.75"/><circle cx="170.34" cy="193.78" r="1.75"/><circle cx="175.02" cy="193.53" r="1.75"/><circle cx="179.70" cy="193.29" r="1.75"/></g>
<text x="131.76" y="189.50" font-size="7.37" textLength="47.77" lengthAdjust="spacingAndGlyphs" font-weight="bold" fill="#18e8ee" stroke="#18e8ee" stroke-width="0.044" >1.25V 100us</text>
<text x="132.23" y="228.10" font-size="7.37" textLength="45.58" lengthAdjust="spacingAndGlyphs" font-weight="bold" fill="#14d814" stroke="#14d814" stroke-width="0.044" >1.15V 100 us</text>
<text x="132.95" y="255.10" font-size="7.52" textLength="48.58" lengthAdjust="spacingAndGlyphs" font-weight="bold" fill="#a01c24" stroke="#a01c24" stroke-width="0.045" >1.05V 100us</text>
<text x="138.54" y="270.50" font-size="7.22" textLength="43.79" lengthAdjust="spacingAndGlyphs" font-weight="bold" fill="#ff7a22" stroke="#ff7a22" stroke-width="0.043" >0.9V 100us</text>
<text x="136.04" y="284.50" font-size="7.37" textLength="43.79" lengthAdjust="spacingAndGlyphs" font-weight="bold" fill="#9a33ff" stroke="#9a33ff" stroke-width="0.044" >0.7V 100us</text>
<text x="212.03" y="165.60" font-size="13.98" textLength="19.55" lengthAdjust="spacingAndGlyphs" stroke="#000" stroke-width="0.3" >(c)</text>
<path d="M259.8,157.9 L404.7,157.9 L404.7,294.8 L259.8,294.8 Z" fill="none" stroke="#4a4a4a" stroke-width="1.4"/>
<line x1="259.8" y1="294.80" x2="262.10" y2="294.80" stroke="#4a4a4a" stroke-width="0.9"/>
<text x="251.55" y="298.10" font-size="9.92" textLength="5.36" lengthAdjust="spacingAndGlyphs" stroke="#000" stroke-width="0.159" >0</text>
<line x1="259.8" y1="268.60" x2="262.10" y2="268.60" stroke="#4a4a4a" stroke-width="0.9"/>
<text x="240.83" y="271.90" font-size="9.92" textLength="16.08" lengthAdjust="spacingAndGlyphs" stroke="#000" stroke-width="0.159" >200</text>
<line x1="259.8" y1="242.40" x2="262.10" y2="242.40" stroke="#4a4a4a" stroke-width="0.9"/>
<text x="240.83" y="245.70" font-size="9.92" textLength="16.08" lengthAdjust="spacingAndGlyphs" stroke="#000" stroke-width="0.159" >400</text>
<line x1="259.8" y1="216.20" x2="262.10" y2="216.20" stroke="#4a4a4a" stroke-width="0.9"/>
<text x="240.83" y="219.50" font-size="9.92" textLength="16.08" lengthAdjust="spacingAndGlyphs" stroke="#000" stroke-width="0.159" >600</text>
<line x1="259.8" y1="190.00" x2="262.10" y2="190.00" stroke="#4a4a4a" stroke-width="0.9"/>
<text x="240.83" y="193.30" font-size="9.92" textLength="16.08" lengthAdjust="spacingAndGlyphs" stroke="#000" stroke-width="0.159" >800</text>
<line x1="259.8" y1="163.80" x2="262.10" y2="163.80" stroke="#4a4a4a" stroke-width="0.9"/>
<text x="235.47" y="167.10" font-size="9.92" textLength="21.44" lengthAdjust="spacingAndGlyphs" stroke="#000" stroke-width="0.159" >1000</text>
<line x1="259.8" y1="281.70" x2="261.20" y2="281.70" stroke="#4a4a4a" stroke-width="0.8"/>
<line x1="259.8" y1="255.50" x2="261.20" y2="255.50" stroke="#4a4a4a" stroke-width="0.8"/>
<line x1="259.8" y1="229.30" x2="261.20" y2="229.30" stroke="#4a4a4a" stroke-width="0.8"/>
<line x1="259.8" y1="203.10" x2="261.20" y2="203.10" stroke="#4a4a4a" stroke-width="0.8"/>
<line x1="259.8" y1="176.90" x2="261.20" y2="176.90" stroke="#4a4a4a" stroke-width="0.8"/>
<line x1="267.60" y1="294.8" x2="267.60" y2="292.50" stroke="#4a4a4a" stroke-width="0.9"/>
<text x="265.23" y="306.30" font-size="10.07" textLength="5.54" lengthAdjust="spacingAndGlyphs" stroke="#000" stroke-width="0.161" >0</text>
<line x1="309.30" y1="294.8" x2="309.30" y2="292.50" stroke="#4a4a4a" stroke-width="0.9"/>
<text x="303.88" y="306.30" font-size="10.07" textLength="11.08" lengthAdjust="spacingAndGlyphs" stroke="#000" stroke-width="0.161" >10</text>
<line x1="351.00" y1="294.8" x2="351.00" y2="292.50" stroke="#4a4a4a" stroke-width="0.9"/>
<text x="345.83" y="306.30" font-size="10.07" textLength="11.08" lengthAdjust="spacingAndGlyphs" stroke="#000" stroke-width="0.161" >20</text>
<line x1="392.70" y1="294.8" x2="392.70" y2="292.50" stroke="#4a4a4a" stroke-width="0.9"/>
<text x="387.50" y="306.30" font-size="10.07" textLength="11.08" lengthAdjust="spacingAndGlyphs" stroke="#000" stroke-width="0.161" >30</text>
<line x1="288.45" y1="294.8" x2="288.45" y2="293.40" stroke="#4a4a4a" stroke-width="0.8"/>
<line x1="330.15" y1="294.8" x2="330.15" y2="293.40" stroke="#4a4a4a" stroke-width="0.8"/>
<line x1="371.85" y1="294.8" x2="371.85" y2="293.40" stroke="#4a4a4a" stroke-width="0.8"/>
<text x="275.43" y="319.10" font-size="14.70" textLength="113.40" lengthAdjust="spacingAndGlyphs" stroke="#000" stroke-width="0.235" >Pulse number (#)</text>
<text transform="translate(236.40 270.50) rotate(-90)" x="-0.56" y="0" font-size="16.57" textLength="98.46" lengthAdjust="spacingAndGlyphs" fill="#000" stroke="#000" stroke-width="0.265">Conductance (uS)</text>
<text x="340.41" y="169.90" font-size="11.03" textLength="60.29" lengthAdjust="spacingAndGlyphs" stroke="#000" stroke-width="0.15" >Depression</text>
<path d="M271.77,183.45 L275.94,243.06 L280.11,262.44 L284.28,268.73 L288.45,268.99 L292.62,269.12 L296.79,269.25 L300.96,269.39 L305.13,269.52 L309.30,269.78 L313.47,270.04 L317.64,270.43 L321.81,270.83 L325.98,271.48 L330.15,272.01 L334.32,272.79 L338.49,273.32 L342.66,273.97 L346.83,274.36 L351.00,274.76 L355.17,275.02 L359.34,275.28 L363.51,275.54 L367.68,275.81 L371.85,276.07 L376.02,276.33 L380.19,276.59 L384.36,276.72 L388.53,276.98 L392.70,277.12" fill="none" stroke="#ff3b3b" stroke-width="1.3"/>
<g fill="#fff" stroke="#ff3b3b" stroke-width="2.1"><circle cx="271.77" cy="183.45" r="1.75"/><circle cx="275.94" cy="243.06" r="1.75"/><circle cx="280.11" cy="262.44" r="1.75"/><circle cx="284.28" cy="268.73" r="1.75"/><circle cx="288.45" cy="268.99" r="1.75"/><circle cx="292.62" cy="269.12" r="1.75"/><circle cx="296.79" cy="269.25" r="1.75"/><circle cx="300.96" cy="269.39" r="1.75"/><circle cx="305.13" cy="269.52" r="1.75"/><circle cx="309.30" cy="269.78" r="1.75"/><circle cx="313.47" cy="270.04" r="1.75"/><circle cx="317.64" cy="270.43" r="1.75"/><circle cx="321.81" cy="270.83" r="1.75"/><circle cx="325.98" cy="271.48" r="1.75"/><circle cx="330.15" cy="272.01" r="1.75"/><circle cx="334.32" cy="272.79" r="1.75"/><circle cx="338.49" cy="273.32" r="1.75"/><circle cx="342.66" cy="273.97" r="1.75"/><circle cx="346.83" cy="274.36" r="1.75"/><circle cx="351.00" cy="274.76" r="1.75"/><circle cx="355.17" cy="275.02" r="1.75"/><circle cx="359.34" cy="275.28" r="1.75"/><circle cx="363.51" cy="275.54" r="1.75"/><circle cx="367.68" cy="275.81" r="1.75"/><circle cx="371.85" cy="276.07" r="1.75"/><circle cx="376.02" cy="276.33" r="1.75"/><circle cx="380.19" cy="276.59" r="1.75"/><circle cx="384.36" cy="276.72" r="1.75"/><circle cx="388.53" cy="276.98" r="1.75"/><circle cx="392.70" cy="277.12" r="1.75"/></g>
<path d="M271.77,180.83 L275.94,224.98 L280.11,227.73 L284.28,232.58 L288.45,234.15 L292.62,236.24 L296.79,238.21 L300.96,240.30 L305.13,242.79 L309.30,244.76 L313.47,250.92 L317.64,251.83 L321.81,256.68 L325.98,257.20 L330.15,259.17 L334.32,259.69 L338.49,259.95 L342.66,260.48 L346.83,261.00 L351.00,261.66 L355.17,262.44 L359.34,263.23 L363.51,263.88 L367.68,264.41 L371.85,264.93 L376.02,265.46 L380.19,265.98 L384.36,266.37 L388.53,266.77 L392.70,267.03" fill="none" stroke="#16ecec" stroke-width="1.3"/>
<g fill="#fff" stroke="#16ecec" stroke-width="2.1"><circle cx="271.77" cy="180.83" r="1.75"/><circle cx="275.94" cy="224.98" r="1.75"/><circle cx="280.11" cy="227.73" r="1.75"/><circle cx="284.28" cy="232.58" r="1.75"/><circle cx="288.45" cy="234.15" r="1.75"/><circle cx="292.62" cy="236.24" r="1.75"/><circle cx="296.79" cy="238.21" r="1.75"/><circle cx="300.96" cy="240.30" r="1.75"/><circle cx="305.13" cy="242.79" r="1.75"/><circle cx="309.30" cy="244.76" r="1.75"/><circle cx="313.47" cy="250.92" r="1.75"/><circle cx="317.64" cy="251.83" r="1.75"/><circle cx="321.81" cy="256.68" r="1.75"/><circle cx="325.98" cy="257.20" r="1.75"/><circle cx="330.15" cy="259.17" r="1.75"/><circle cx="334.32" cy="259.69" r="1.75"/><circle cx="338.49" cy="259.95" r="1.75"/><circle cx="342.66" cy="260.48" r="1.75"/><circle cx="346.83" cy="261.00" r="1.75"/><circle cx="351.00" cy="261.66" r="1.75"/><circle cx="355.17" cy="262.44" r="1.75"/><circle cx="359.34" cy="263.23" r="1.75"/><circle cx="363.51" cy="263.88" r="1.75"/><circle cx="367.68" cy="264.41" r="1.75"/><circle cx="371.85" cy="264.93" r="1.75"/><circle cx="376.02" cy="265.46" r="1.75"/><circle cx="380.19" cy="265.98" r="1.75"/><circle cx="384.36" cy="266.37" r="1.75"/><circle cx="388.53" cy="266.77" r="1.75"/><circle cx="392.70" cy="267.03" r="1.75"/></g>
<path d="M271.77,183.45 L275.94,195.24 L280.11,206.24 L284.28,218.17 L288.45,223.14 L292.62,225.76 L296.79,228.51 L300.96,229.56 L305.13,230.74 L309.30,231.79 L313.47,232.44 L317.64,233.10 L321.81,233.89 L325.98,234.41 L330.15,234.93 L334.32,235.46 L338.49,235.98 L342.66,236.64 L346.83,237.16 L351.00,237.68 L355.17,238.21 L359.34,238.73 L363.51,239.26 L367.68,239.78 L371.85,240.30 L376.02,240.83 L380.19,241.35 L384.36,241.88 L388.53,242.27 L392.70,242.66" fill="none" stroke="#de9a0a" stroke-width="1.3"/>
<g fill="#fff" stroke="#de9a0a" stroke-width="2.1"><circle cx="271.77" cy="183.45" r="1.75"/><circle cx="275.94" cy="195.24" r="1.75"/><circle cx="280.11" cy="206.24" r="1.75"/><circle cx="284.28" cy="218.17" r="1.75"/><circle cx="288.45" cy="223.14" r="1.75"/><circle cx="292.62" cy="225.76" r="1.75"/><circle cx="296.79" cy="228.51" r="1.75"/><circle cx="300.96" cy="229.56" r="1.75"/><circle cx="305.13" cy="230.74" r="1.75"/><circle cx="309.30" cy="231.79" r="1.75"/><circle cx="313.47" cy="232.44" r="1.75"/><circle cx="317.64" cy="233.10" r="1.75"/><circle cx="321.81" cy="233.89" r="1.75"/><circle cx="325.98" cy="234.41" r="1.75"/><circle cx="330.15" cy="234.93" r="1.75"/><circle cx="334.32" cy="235.46" r="1.75"/><circle cx="338.49" cy="235.98" r="1.75"/><circle cx="342.66" cy="236.64" r="1.75"/><circle cx="346.83" cy="237.16" r="1.75"/><circle cx="351.00" cy="237.68" r="1.75"/><circle cx="355.17" cy="238.21" r="1.75"/><circle cx="359.34" cy="238.73" r="1.75"/><circle cx="363.51" cy="239.26" r="1.75"/><circle cx="367.68" cy="239.78" r="1.75"/><circle cx="371.85" cy="240.30" r="1.75"/><circle cx="376.02" cy="240.83" r="1.75"/><circle cx="380.19" cy="241.35" r="1.75"/><circle cx="384.36" cy="241.88" r="1.75"/><circle cx="388.53" cy="242.27" r="1.75"/><circle cx="392.70" cy="242.66" r="1.75"/></g>
<path d="M271.77,184.24 L275.94,194.06 L280.11,203.36 L284.28,210.04 L288.45,211.09 L292.62,212.14 L296.79,212.79 L300.96,213.71 L305.13,214.10 L309.30,214.37 L313.47,214.63 L317.64,214.76 L321.81,215.15 L325.98,215.55 L330.15,215.81 L334.32,216.07 L338.49,216.46 L342.66,216.99 L346.83,217.51 L351.00,218.03 L355.17,218.56 L359.34,219.08 L363.51,219.61 L367.68,220.26 L371.85,220.92 L376.02,221.70 L380.19,222.36 L384.36,223.01 L388.53,223.67 L392.70,224.19" fill="none" stroke="#950c0c" stroke-width="1.3"/>
<g fill="#fff" stroke="#950c0c" stroke-width="2.1"><circle cx="271.77" cy="184.24" r="1.75"/><circle cx="275.94" cy="194.06" r="1.75"/><circle cx="280.11" cy="203.36" r="1.75"/><circle cx="284.28" cy="210.04" r="1.75"/><circle cx="288.45" cy="211.09" r="1.75"/><circle cx="292.62" cy="212.14" r="1.75"/><circle cx="296.79" cy="212.79" r="1.75"/><circle cx="300.96" cy="213.71" r="1.75"/><circle cx="305.13" cy="214.10" r="1.75"/><circle cx="309.30" cy="214.37" r="1.75"/><circle cx="313.47" cy="214.63" r="1.75"/><circle cx="317.64" cy="214.76" r="1.75"/><circle cx="321.81" cy="215.15" r="1.75"/><circle cx="325.98" cy="215.55" r="1.75"/><circle cx="330.15" cy="215.81" r="1.75"/><circle cx="334.32" cy="216.07" r="1.75"/><circle cx="338.49" cy="216.46" r="1.75"/><circle cx="342.66" cy="216.99" r="1.75"/><circle cx="346.83" cy="217.51" r="1.75"/><circle cx="351.00" cy="218.03" r="1.75"/><circle cx="355.17" cy="218.56" r="1.75"/><circle cx="359.34" cy="219.08" r="1.75"/><circle cx="363.51" cy="219.61" r="1.75"/><circle cx="367.68" cy="220.26" r="1.75"/><circle cx="371.85" cy="220.92" r="1.75"/><circle cx="376.02" cy="221.70" r="1.75"/><circle cx="380.19" cy="222.36" r="1.75"/><circle cx="384.36" cy="223.01" r="1.75"/><circle cx="388.53" cy="223.67" r="1.75"/><circle cx="392.70" cy="224.19" r="1.75"/></g>
<path d="M271.77,178.87 L275.94,190.00 L280.11,191.05 L284.28,190.79 L288.45,193.67 L292.62,196.81 L296.79,197.99 L300.96,198.51 L305.13,199.04 L309.30,199.30 L313.47,199.56 L317.64,199.69 L321.81,199.82 L325.98,199.96 L330.15,199.96 L334.32,200.61 L338.49,201.13 L342.66,201.66 L346.83,202.31 L351.00,202.97 L355.17,203.49 L359.34,204.15 L363.51,204.67 L367.68,205.33 L371.85,205.98 L376.02,206.77 L380.19,207.42 L384.36,208.08 L388.53,208.86 L392.70,209.65" fill="none" stroke="#16ea16" stroke-width="1.3"/>
<g fill="#fff" stroke="#16ea16" stroke-width="2.1"><circle cx="271.77" cy="178.87" r="1.75"/><circle cx="275.94" cy="190.00" r="1.75"/><circle cx="280.11" cy="191.05" r="1.75"/><circle cx="284.28" cy="190.79" r="1.75"/><circle cx="288.45" cy="193.67" r="1.75"/><circle cx="292.62" cy="196.81" r="1.75"/><circle cx="296.79" cy="197.99" r="1.75"/><circle cx="300.96" cy="198.51" r="1.75"/><circle cx="305.13" cy="199.04" r="1.75"/><circle cx="309.30" cy="199.30" r="1.75"/><circle cx="313.47" cy="199.56" r="1.75"/><circle cx="317.64" cy="199.69" r="1.75"/><circle cx="321.81" cy="199.82" r="1.75"/><circle cx="325.98" cy="199.96" r="1.75"/><circle cx="330.15" cy="199.96" r="1.75"/><circle cx="334.32" cy="200.61" r="1.75"/><circle cx="338.49" cy="201.13" r="1.75"/><circle cx="342.66" cy="201.66" r="1.75"/><circle cx="346.83" cy="202.31" r="1.75"/><circle cx="351.00" cy="202.97" r="1.75"/><circle cx="355.17" cy="203.49" r="1.75"/><circle cx="359.34" cy="204.15" r="1.75"/><circle cx="363.51" cy="204.67" r="1.75"/><circle cx="367.68" cy="205.33" r="1.75"/><circle cx="371.85" cy="205.98" r="1.75"/><circle cx="376.02" cy="206.77" r="1.75"/><circle cx="380.19" cy="207.42" r="1.75"/><circle cx="384.36" cy="208.08" r="1.75"/><circle cx="388.53" cy="208.86" r="1.75"/><circle cx="392.70" cy="209.65" r="1.75"/></g>
<text x="356.40" y="200.80" font-size="7.82" textLength="40.09" lengthAdjust="spacingAndGlyphs" font-weight="bold" font-style="italic" fill="#12d812" stroke="#12d812" stroke-width="0.047" transform="rotate(6.50 356.60 200.80)" >-1V 100us</text>
<text x="347.50" y="214.60" font-size="7.52" textLength="47.29" lengthAdjust="spacingAndGlyphs" font-weight="bold" font-style="italic" fill="#8e1a1a" stroke="#8e1a1a" stroke-width="0.045" transform="rotate(6.00 347.70 214.60)" >-1.1V 100us</text>
<text x="343.30" y="232.20" font-size="7.52" textLength="52.50" lengthAdjust="spacingAndGlyphs" font-weight="bold" font-style="italic" fill="#d99418" stroke="#d99418" stroke-width="0.045" transform="rotate(5.50 343.50 232.20)" >-1.18V 100us</text>
<text x="342.60" y="256.20" font-size="7.52" textLength="54.60" lengthAdjust="spacingAndGlyphs" font-weight="bold" font-style="italic" fill="#12e0e8" stroke="#12e0e8" stroke-width="0.045" transform="rotate(5.40 342.80 256.20)" >-1.25 V 100us</text>
<text x="344.00" y="284.20" font-size="7.52" textLength="52.60" lengthAdjust="spacingAndGlyphs" font-weight="bold" font-style="italic" fill="#ff4040" stroke="#ff4040" stroke-width="0.045" transform="rotate(2.30 344.20 284.20)" >-1.32V 100us</text>
<text x="16.86" y="342.80" font-size="16.72" textLength="23.78" lengthAdjust="spacingAndGlyphs" stroke="#000" stroke-width="0.15" >(e)</text>
<text x="53.15" y="333.40" font-size="12.97" textLength="117.02" lengthAdjust="spacingAndGlyphs" font-weight="bold" stroke="#000" stroke-width="0.078" >Conductance(u S)</text>
<defs><linearGradient id="cb" x1="0" y1="0" x2="0" y2="1"><stop offset="0" stop-color="#ff0000"/><stop offset="0.5" stop-color="#ffffff"/><stop offset="1" stop-color="#0000ff"/></linearGradient></defs>
<rect x="90" y="338.3" width="7.3" height="80.5" fill="url(#cb)"/>
<text x="100.45" y="343.75" font-size="7.97" textLength="23.75" lengthAdjust="spacingAndGlyphs" font-weight="bold" stroke="#000" stroke-width="0.048" >106.0</text>
<text x="100.96" y="356.75" font-size="7.97" textLength="23.03" lengthAdjust="spacingAndGlyphs" font-weight="bold" stroke="#000" stroke-width="0.048" >89.94</text>
<text x="100.70" y="372.85" font-size="7.97" textLength="23.44" lengthAdjust="spacingAndGlyphs" font-weight="bold" stroke="#000" stroke-width="0.048" >73.88</text>
<text x="100.88" y="389.05" font-size="7.97" textLength="23.36" lengthAdjust="spacingAndGlyphs" font-weight="bold" stroke="#000" stroke-width="0.048" >57.82</text>
<text x="101.16" y="405.05" font-size="8.00" textLength="22.94" lengthAdjust="spacingAndGlyphs" font-weight="bold" stroke="#000" stroke-width="0.048" >41.76</text>
<text x="100.86" y="420.75" font-size="7.97" textLength="23.33" lengthAdjust="spacingAndGlyphs" font-weight="bold" stroke="#000" stroke-width="0.048" >25.70</text>
<rect x="171.50" y="332.00" width="22.20" height="18.24" fill="#4242ff"/>
<rect x="192.70" y="332.00" width="22.20" height="18.24" fill="#7f7fff"/>
<rect x="213.90" y="332.00" width="22.20" height="18.24" fill="#5555ff"/>
<rect x="235.10" y="332.00" width="22.20" height="18.24" fill="#6868ff"/>
<rect x="256.30" y="332.00" width="21.20" height="18.24" fill="#4242ff"/>
<rect x="171.50" y="349.24" width="22.20" height="18.24" fill="#5050ff"/>
<rect x="192.70" y="349.24" width="22.20" height="18.24" fill="#9a9aff"/>
<rect x="213.90" y="349.24" width="22.20" height="18.24" fill="#2c2cff"/>
<rect x="235.10" y="349.24" width="22.20" height="18.24" fill="#6a6aff"/>
<rect x="256.30" y="349.24" width="21.20" height="18.24" fill="#6a6aff"/>
<rect x="171.50" y="366.48" width="22.20" height="18.24" fill="#0000ff"/>
<rect x="192.70" y="366.48" width="22.20" height="18.24" fill="#4040ff"/>
<rect x="213.90" y="366.48" width="22.20" height="18.24" fill="#5555ff"/>
<rect x="235.10" y="366.48" width="22.20" height="18.24" fill="#6464ff"/>
<rect x="256.30" y="366.48" width="21.20" height="18.24" fill="#5252ff"/>
<rect x="171.50" y="383.72" width="22.20" height="18.24" fill="#6a6aff"/>
<rect x="192.70" y="383.72" width="22.20" height="18.24" fill="#2c2cff"/>
<rect x="213.90" y="383.72" width="22.20" height="18.24" fill="#8c8cff"/>
<rect x="235.10" y="383.72" width="22.20" height="18.24" fill="#2e2eff"/>
<rect x="256.30" y="383.72" width="21.20" height="18.24" fill="#0808ff"/>
<rect x="171.50" y="400.96" width="22.20" height="17.24" fill="#4141ff"/>
<rect x="192.70" y="400.96" width="22.20" height="17.24" fill="#0808ff"/>
<rect x="213.90" y="400.96" width="22.20" height="17.24" fill="#0606ff"/>
<rect x="235.10" y="400.96" width="22.20" height="17.24" fill="#2c2cff"/>
<rect x="256.30" y="400.96" width="21.20" height="17.24" fill="#4646ff"/>
<text x="163.62" y="343.32" font-size="8.25" textLength="4.54" lengthAdjust="spacingAndGlyphs" font-weight="bold" stroke="#000" stroke-width="0.049" >5</text>
<line x1="170.30" y1="340.62" x2="171.50" y2="340.62" stroke="#555" stroke-width="0.5"/>
<text x="163.67" y="360.56" font-size="8.20" textLength="4.51" lengthAdjust="spacingAndGlyphs" font-weight="bold" stroke="#000" stroke-width="0.049" >4</text>
<line x1="170.30" y1="357.86" x2="171.50" y2="357.86" stroke="#555" stroke-width="0.5"/>
<text x="163.64" y="377.80" font-size="8.16" textLength="4.49" lengthAdjust="spacingAndGlyphs" font-weight="bold" stroke="#000" stroke-width="0.049" >3</text>
<line x1="170.30" y1="375.10" x2="171.50" y2="375.10" stroke="#555" stroke-width="0.5"/>
<text x="163.66" y="395.04" font-size="8.16" textLength="4.49" lengthAdjust="spacingAndGlyphs" font-weight="bold" stroke="#000" stroke-width="0.049" >2</text>
<line x1="170.30" y1="392.34" x2="171.50" y2="392.34" stroke="#555" stroke-width="0.5"/>
<text x="163.52" y="412.28" font-size="8.18" textLength="4.50" lengthAdjust="spacingAndGlyphs" font-weight="bold" stroke="#000" stroke-width="0.049" >1</text>
<line x1="170.30" y1="409.58" x2="171.50" y2="409.58" stroke="#555" stroke-width="0.5"/>
<text x="179.94" y="428.10" font-size="7.42" textLength="4.08" lengthAdjust="spacingAndGlyphs" font-weight="bold" stroke="#000" stroke-width="0.045" >1</text>
<line x1="182.10" y1="418.20" x2="182.10" y2="419.40" stroke="#555" stroke-width="0.5"/>
<text x="201.27" y="428.10" font-size="7.40" textLength="4.07" lengthAdjust="spacingAndGlyphs" font-weight="bold" stroke="#000" stroke-width="0.044" >2</text>
<line x1="203.30" y1="418.20" x2="203.30" y2="419.40" stroke="#555" stroke-width="0.5"/>
<text x="222.45" y="428.10" font-size="7.40" textLength="4.07" lengthAdjust="spacingAndGlyphs" font-weight="bold" stroke="#000" stroke-width="0.044" >3</text>
<line x1="224.50" y1="418.20" x2="224.50" y2="419.40" stroke="#555" stroke-width="0.5"/>
<text x="243.67" y="428.10" font-size="7.44" textLength="4.09" lengthAdjust="spacingAndGlyphs" font-weight="bold" stroke="#000" stroke-width="0.045" >4</text>
<line x1="245.70" y1="418.20" x2="245.70" y2="419.40" stroke="#555" stroke-width="0.5"/>
<text x="264.83" y="428.10" font-size="7.48" textLength="4.12" lengthAdjust="spacingAndGlyphs" font-weight="bold" stroke="#000" stroke-width="0.045" >5</text>
<line x1="266.90" y1="418.20" x2="266.90" y2="419.40" stroke="#555" stroke-width="0.5"/>
<text x="216.22" y="436.00" font-size="9.08" textLength="29.58" lengthAdjust="spacingAndGlyphs" font-weight="bold" stroke="#000" stroke-width="0.054" >Initial</text>
<rect x="292.10" y="331.70" width="22.02" height="18.16" fill="#ff9a9a"/>
<rect x="313.12" y="331.70" width="22.02" height="18.16" fill="#ffacac"/>
<rect x="334.14" y="331.70" width="22.02" height="18.16" fill="#ffa2a2"/>
<rect x="355.16" y="331.70" width="22.02" height="18.16" fill="#ffaeae"/>
<rect x="376.18" y="331.70" width="21.02" height="18.16" fill="#ffaeae"/>
<rect x="292.10" y="348.86" width="22.02" height="18.16" fill="#5050ff"/>
<rect x="313.12" y="348.86" width="22.02" height="18.16" fill="#2a2aff"/>
<rect x="334.14" y="348.86" width="22.02" height="18.16" fill="#ff9696"/>
<rect x="355.16" y="348.86" width="22.02" height="18.16" fill="#6a6aff"/>
<rect x="376.18" y="348.86" width="21.02" height="18.16" fill="#6a6aff"/>
<rect x="292.10" y="366.02" width="22.02" height="18.16" fill="#0000ff"/>
<rect x="313.12" y="366.02" width="22.02" height="18.16" fill="#3a3aff"/>
<rect x="334.14" y="366.02" width="22.02" height="18.16" fill="#ff4040"/>
<rect x="355.16" y="366.02" width="22.02" height="18.16" fill="#6a6aff"/>
<rect x="376.18" y="366.02" width="21.02" height="18.16" fill="#5858ff"/>
<rect x="292.10" y="383.18" width="22.02" height="18.16" fill="#6a6aff"/>
<rect x="313.12" y="383.18" width="22.02" height="18.16" fill="#2e2eff"/>
<rect x="334.14" y="383.18" width="22.02" height="18.16" fill="#ff9898"/>
<rect x="355.16" y="383.18" width="22.02" height="18.16" fill="#a0a0ff"/>
<rect x="376.18" y="383.18" width="21.02" height="18.16" fill="#8c8cff"/>
<rect x="292.10" y="400.34" width="22.02" height="17.16" fill="#4444ff"/>
<rect x="313.12" y="400.34" width="22.02" height="17.16" fill="#0606ff"/>
<rect x="334.14" y="400.34" width="22.02" height="17.16" fill="#ffcaca"/>
<rect x="355.16" y="400.34" width="22.02" height="17.16" fill="#2e2eff"/>
<rect x="376.18" y="400.34" width="21.02" height="17.16" fill="#4444ff"/>
<text x="284.22" y="342.98" font-size="8.25" textLength="4.54" lengthAdjust="spacingAndGlyphs" font-weight="bold" stroke="#000" stroke-width="0.049" >5</text>
<line x1="290.90" y1="340.28" x2="292.10" y2="340.28" stroke="#555" stroke-width="0.5"/>
<text x="284.27" y="360.14" font-size="8.20" textLength="4.51" lengthAdjust="spacingAndGlyphs" font-weight="bold" stroke="#000" stroke-width="0.049" >4</text>
<line x1="290.90" y1="357.44" x2="292.10" y2="357.44" stroke="#555" stroke-width="0.5"/>
<text x="284.24" y="377.30" font-size="8.16" textLength="4.49" lengthAdjust="spacingAndGlyphs" font-weight="bold" stroke="#000" stroke-width="0.049" >3</text>
<line x1="290.90" y1="374.60" x2="292.10" y2="374.60" stroke="#555" stroke-width="0.5"/>
<text x="284.26" y="394.46" font-size="8.16" textLength="4.49" lengthAdjust="spacingAndGlyphs" font-weight="bold" stroke="#000" stroke-width="0.049" >2</text>
<line x1="290.90" y1="391.76" x2="292.10" y2="391.76" stroke="#555" stroke-width="0.5"/>
<text x="284.12" y="411.62" font-size="8.18" textLength="4.50" lengthAdjust="spacingAndGlyphs" font-weight="bold" stroke="#000" stroke-width="0.049" >1</text>
<line x1="290.90" y1="408.92" x2="292.10" y2="408.92" stroke="#555" stroke-width="0.5"/>
<text x="300.45" y="427.40" font-size="7.42" textLength="4.08" lengthAdjust="spacingAndGlyphs" font-weight="bold" stroke="#000" stroke-width="0.045" >1</text>
<line x1="302.61" y1="417.50" x2="302.61" y2="418.70" stroke="#555" stroke-width="0.5"/>
<text x="321.60" y="427.40" font-size="7.40" textLength="4.07" lengthAdjust="spacingAndGlyphs" font-weight="bold" stroke="#000" stroke-width="0.044" >2</text>
<line x1="323.63" y1="417.50" x2="323.63" y2="418.70" stroke="#555" stroke-width="0.5"/>
<text x="342.60" y="427.40" font-size="7.40" textLength="4.07" lengthAdjust="spacingAndGlyphs" font-weight="bold" stroke="#000" stroke-width="0.044" >3</text>
<line x1="344.65" y1="417.50" x2="344.65" y2="418.70" stroke="#555" stroke-width="0.5"/>
<text x="363.64" y="427.40" font-size="7.44" textLength="4.09" lengthAdjust="spacingAndGlyphs" font-weight="bold" stroke="#000" stroke-width="0.045" >4</text>
<line x1="365.67" y1="417.50" x2="365.67" y2="418.70" stroke="#555" stroke-width="0.5"/>
<text x="384.62" y="427.40" font-size="7.48" textLength="4.12" lengthAdjust="spacingAndGlyphs" font-weight="bold" stroke="#000" stroke-width="0.045" >5</text>
<line x1="386.69" y1="417.50" x2="386.69" y2="418.70" stroke="#555" stroke-width="0.5"/>
<text x="326.54" y="434.00" font-size="8.79" textLength="39.00" lengthAdjust="spacingAndGlyphs" font-weight="bold" stroke="#000" stroke-width="0.053" >Cycle10</text>
<rect x="53.20" y="438.00" width="21.94" height="18.16" fill="#ff6565"/>
<rect x="74.14" y="438.00" width="21.94" height="18.16" fill="#ff7272"/>
<rect x="95.08" y="438.00" width="21.94" height="18.16" fill="#ff6a6a"/>
<rect x="116.02" y="438.00" width="21.94" height="18.16" fill="#ff7070"/>
<rect x="136.96" y="438.00" width="20.94" height="18.16" fill="#ff7070"/>
<rect x="53.20" y="455.16" width="21.94" height="18.16" fill="#5050ff"/>
<rect x="74.14" y="455.16" width="21.94" height="18.16" fill="#2a2aff"/>
<rect x="95.08" y="455.16" width="21.94" height="18.16" fill="#ff6464"/>
<rect x="116.02" y="455.16" width="21.94" height="18.16" fill="#6a6aff"/>
<rect x="136.96" y="455.16" width="20.94" height="18.16" fill="#6a6aff"/>
<rect x="53.20" y="472.32" width="21.94" height="18.16" fill="#0000ff"/>
<rect x="74.14" y="472.32" width="21.94" height="18.16" fill="#3a3aff"/>
<rect x="95.08" y="472.32" width="21.94" height="18.16" fill="#ff0808"/>
<rect x="116.02" y="472.32" width="21.94" height="18.16" fill="#6a6aff"/>
<rect x="136.96" y="472.32" width="20.94" height="18.16" fill="#5858ff"/>
<rect x="53.20" y="489.48" width="21.94" height="18.16" fill="#6a6aff"/>
<rect x="74.14" y="489.48" width="21.94" height="18.16" fill="#2e2eff"/>
<rect x="95.08" y="489.48" width="21.94" height="18.16" fill="#ff6464"/>
<rect x="116.02" y="489.48" width="21.94" height="18.16" fill="#a0a0ff"/>
<rect x="136.96" y="489.48" width="20.94" height="18.16" fill="#8c8cff"/>
<rect x="53.20" y="506.64" width="21.94" height="17.16" fill="#4444ff"/>
<rect x="74.14" y="506.64" width="21.94" height="17.16" fill="#0606ff"/>
<rect x="95.08" y="506.64" width="21.94" height="17.16" fill="#ffc8c8"/>
<rect x="116.02" y="506.64" width="21.94" height="17.16" fill="#2e2eff"/>
<rect x="136.96" y="506.64" width="20.94" height="17.16" fill="#4444ff"/>
<text x="45.32" y="449.28" font-size="8.25" textLength="4.54" lengthAdjust="spacingAndGlyphs" font-weight="bold" stroke="#000" stroke-width="0.049" >5</text>
<line x1="52.00" y1="446.58" x2="53.20" y2="446.58" stroke="#555" stroke-width="0.5"/>
<text x="45.37" y="466.44" font-size="8.20" textLength="4.51" lengthAdjust="spacingAndGlyphs" font-weight="bold" stroke="#000" stroke-width="0.049" >4</text>
<line x1="52.00" y1="463.74" x2="53.20" y2="463.74" stroke="#555" stroke-width="0.5"/>
<text x="45.34" y="483.60" font-size="8.16" textLength="4.49" lengthAdjust="spacingAndGlyphs" font-weight="bold" stroke="#000" stroke-width="0.049" >3</text>
<line x1="52.00" y1="480.90" x2="53.20" y2="480.90" stroke="#555" stroke-width="0.5"/>
<text x="45.36" y="500.76" font-size="8.16" textLength="4.49" lengthAdjust="spacingAndGlyphs" font-weight="bold" stroke="#000" stroke-width="0.049" >2</text>
<line x1="52.00" y1="498.06" x2="53.20" y2="498.06" stroke="#555" stroke-width="0.5"/>
<text x="45.22" y="517.92" font-size="8.18" textLength="4.50" lengthAdjust="spacingAndGlyphs" font-weight="bold" stroke="#000" stroke-width="0.049" >1</text>
<line x1="52.00" y1="515.22" x2="53.20" y2="515.22" stroke="#555" stroke-width="0.5"/>
<text x="61.51" y="533.70" font-size="7.42" textLength="4.08" lengthAdjust="spacingAndGlyphs" font-weight="bold" stroke="#000" stroke-width="0.045" >1</text>
<line x1="63.67" y1="523.80" x2="63.67" y2="525.00" stroke="#555" stroke-width="0.5"/>
<text x="82.58" y="533.70" font-size="7.40" textLength="4.07" lengthAdjust="spacingAndGlyphs" font-weight="bold" stroke="#000" stroke-width="0.044" >2</text>
<line x1="84.61" y1="523.80" x2="84.61" y2="525.00" stroke="#555" stroke-width="0.5"/>
<text x="103.50" y="533.70" font-size="7.40" textLength="4.07" lengthAdjust="spacingAndGlyphs" font-weight="bold" stroke="#000" stroke-width="0.044" >3</text>
<line x1="105.55" y1="523.80" x2="105.55" y2="525.00" stroke="#555" stroke-width="0.5"/>
<text x="124.46" y="533.70" font-size="7.44" textLength="4.09" lengthAdjust="spacingAndGlyphs" font-weight="bold" stroke="#000" stroke-width="0.045" >4</text>
<line x1="126.49" y1="523.80" x2="126.49" y2="525.00" stroke="#555" stroke-width="0.5"/>
<text x="145.36" y="533.70" font-size="7.48" textLength="4.12" lengthAdjust="spacingAndGlyphs" font-weight="bold" stroke="#000" stroke-width="0.045" >5</text>
<line x1="147.43" y1="523.80" x2="147.43" y2="525.00" stroke="#555" stroke-width="0.5"/>
<text x="88.24" y="540.00" font-size="8.36" textLength="38.78" lengthAdjust="spacingAndGlyphs" font-weight="bold" stroke="#000" stroke-width="0.05" >Cycle15</text>
<rect x="172.30" y="437.60" width="22.32" height="18.30" fill="#ff5858"/>
<rect x="193.62" y="437.60" width="22.32" height="18.30" fill="#ff6060"/>
<rect x="214.94" y="437.60" width="22.32" height="18.30" fill="#ff5656"/>
<rect x="236.26" y="437.60" width="22.32" height="18.30" fill="#ff5e5e"/>
<rect x="257.58" y="437.60" width="21.32" height="18.30" fill="#ff5e5e"/>
<rect x="172.30" y="454.90" width="22.32" height="18.30" fill="#5050ff"/>
<rect x="193.62" y="454.90" width="22.32" height="18.30" fill="#2a2aff"/>
<rect x="214.94" y="454.90" width="22.32" height="18.30" fill="#ff5252"/>
<rect x="236.26" y="454.90" width="22.32" height="18.30" fill="#6a6aff"/>
<rect x="257.58" y="454.90" width="21.32" height="18.30" fill="#6a6aff"/>
<rect x="172.30" y="472.20" width="22.32" height="18.30" fill="#0000ff"/>
<rect x="193.62" y="472.20" width="22.32" height="18.30" fill="#3a3aff"/>
<rect x="214.94" y="472.20" width="22.32" height="18.30" fill="#ff0000"/>
<rect x="236.26" y="472.20" width="22.32" height="18.30" fill="#6a6aff"/>
<rect x="257.58" y="472.20" width="21.32" height="18.30" fill="#5858ff"/>
<rect x="172.30" y="489.50" width="22.32" height="18.30" fill="#6a6aff"/>
<rect x="193.62" y="489.50" width="22.32" height="18.30" fill="#2e2eff"/>
<rect x="214.94" y="489.50" width="22.32" height="18.30" fill="#ff5252"/>
<rect x="236.26" y="489.50" width="22.32" height="18.30" fill="#a0a0ff"/>
<rect x="257.58" y="489.50" width="21.32" height="18.30" fill="#8c8cff"/>
<rect x="172.30" y="506.80" width="22.32" height="17.30" fill="#4444ff"/>
<rect x="193.62" y="506.80" width="22.32" height="17.30" fill="#0606ff"/>
<rect x="214.94" y="506.80" width="22.32" height="17.30" fill="#ffb0b0"/>
<rect x="236.26" y="506.80" width="22.32" height="17.30" fill="#2e2eff"/>
<rect x="257.58" y="506.80" width="21.32" height="17.30" fill="#4444ff"/>
<text x="164.42" y="448.95" font-size="8.25" textLength="4.54" lengthAdjust="spacingAndGlyphs" font-weight="bold" stroke="#000" stroke-width="0.049" >5</text>
<line x1="171.10" y1="446.25" x2="172.30" y2="446.25" stroke="#555" stroke-width="0.5"/>
<text x="164.47" y="466.25" font-size="8.20" textLength="4.51" lengthAdjust="spacingAndGlyphs" font-weight="bold" stroke="#000" stroke-width="0.049" >4</text>
<line x1="171.10" y1="463.55" x2="172.30" y2="463.55" stroke="#555" stroke-width="0.5"/>
<text x="164.44" y="483.55" font-size="8.16" textLength="4.49" lengthAdjust="spacingAndGlyphs" font-weight="bold" stroke="#000" stroke-width="0.049" >3</text>
<line x1="171.10" y1="480.85" x2="172.30" y2="480.85" stroke="#555" stroke-width="0.5"/>
<text x="164.46" y="500.85" font-size="8.16" textLength="4.49" lengthAdjust="spacingAndGlyphs" font-weight="bold" stroke="#000" stroke-width="0.049" >2</text>
<line x1="171.10" y1="498.15" x2="172.30" y2="498.15" stroke="#555" stroke-width="0.5"/>
<text x="164.32" y="518.15" font-size="8.18" textLength="4.50" lengthAdjust="spacingAndGlyphs" font-weight="bold" stroke="#000" stroke-width="0.049" >1</text>
<line x1="171.10" y1="515.45" x2="172.30" y2="515.45" stroke="#555" stroke-width="0.5"/>
<text x="180.80" y="534.00" font-size="7.42" textLength="4.08" lengthAdjust="spacingAndGlyphs" font-weight="bold" stroke="#000" stroke-width="0.045" >1</text>
<line x1="182.96" y1="524.10" x2="182.96" y2="525.30" stroke="#555" stroke-width="0.5"/>
<text x="202.25" y="534.00" font-size="7.40" textLength="4.07" lengthAdjust="spacingAndGlyphs" font-weight="bold" stroke="#000" stroke-width="0.044" >2</text>
<line x1="204.28" y1="524.10" x2="204.28" y2="525.30" stroke="#555" stroke-width="0.5"/>
<text x="223.55" y="534.00" font-size="7.40" textLength="4.07" lengthAdjust="spacingAndGlyphs" font-weight="bold" stroke="#000" stroke-width="0.044" >3</text>
<line x1="225.60" y1="524.10" x2="225.60" y2="525.30" stroke="#555" stroke-width="0.5"/>
<text x="244.89" y="534.00" font-size="7.44" textLength="4.09" lengthAdjust="spacingAndGlyphs" font-weight="bold" stroke="#000" stroke-width="0.045" >4</text>
<line x1="246.92" y1="524.10" x2="246.92" y2="525.30" stroke="#555" stroke-width="0.5"/>
<text x="266.17" y="534.00" font-size="7.48" textLength="4.12" lengthAdjust="spacingAndGlyphs" font-weight="bold" stroke="#000" stroke-width="0.045" >5</text>
<line x1="268.24" y1="524.10" x2="268.24" y2="525.30" stroke="#555" stroke-width="0.5"/>
<text x="207.83" y="540.70" font-size="8.36" textLength="39.21" lengthAdjust="spacingAndGlyphs" font-weight="bold" stroke="#000" stroke-width="0.05" >Cycle20</text>
<rect x="292.10" y="437.60" width="22.58" height="18.48" fill="#ff4848"/>
<rect x="313.68" y="437.60" width="22.58" height="18.48" fill="#ff5050"/>
<rect x="335.26" y="437.60" width="22.58" height="18.48" fill="#ff3c3c"/>
<rect x="356.84" y="437.60" width="22.58" height="18.48" fill="#ff5050"/>
<rect x="378.42" y="437.60" width="21.58" height="18.48" fill="#ff5050"/>
<rect x="292.10" y="455.08" width="22.58" height="18.48" fill="#5050ff"/>
<rect x="313.68" y="455.08" width="22.58" height="18.48" fill="#2a2aff"/>
<rect x="335.26" y="455.08" width="22.58" height="18.48" fill="#ff4444"/>
<rect x="356.84" y="455.08" width="22.58" height="18.48" fill="#6a6aff"/>
<rect x="378.42" y="455.08" width="21.58" height="18.48" fill="#6a6aff"/>
<rect x="292.10" y="472.56" width="22.58" height="18.48" fill="#0000ff"/>
<rect x="313.68" y="472.56" width="22.58" height="18.48" fill="#3a3aff"/>
<rect x="335.26" y="472.56" width="22.58" height="18.48" fill="#ff0000"/>
<rect x="356.84" y="472.56" width="22.58" height="18.48" fill="#6a6aff"/>
<rect x="378.42" y="472.56" width="21.58" height="18.48" fill="#5858ff"/>
<rect x="292.10" y="490.04" width="22.58" height="18.48" fill="#6a6aff"/>
<rect x="313.68" y="490.04" width="22.58" height="18.48" fill="#2e2eff"/>
<rect x="335.26" y="490.04" width="22.58" height="18.48" fill="#ff4444"/>
<rect x="356.84" y="490.04" width="22.58" height="18.48" fill="#a0a0ff"/>
<rect x="378.42" y="490.04" width="21.58" height="18.48" fill="#8c8cff"/>
<rect x="292.10" y="507.52" width="22.58" height="17.48" fill="#4444ff"/>
<rect x="313.68" y="507.52" width="22.58" height="17.48" fill="#0606ff"/>
<rect x="335.26" y="507.52" width="22.58" height="17.48" fill="#ff6868"/>
<rect x="356.84" y="507.52" width="22.58" height="17.48" fill="#2e2eff"/>
<rect x="378.42" y="507.52" width="21.58" height="17.48" fill="#4444ff"/>
<text x="284.22" y="449.04" font-size="8.25" textLength="4.54" lengthAdjust="spacingAndGlyphs" font-weight="bold" stroke="#000" stroke-width="0.049" >5</text>
<line x1="290.90" y1="446.34" x2="292.10" y2="446.34" stroke="#555" stroke-width="0.5"/>
<text x="284.27" y="466.52" font-size="8.20" textLength="4.51" lengthAdjust="spacingAndGlyphs" font-weight="bold" stroke="#000" stroke-width="0.049" >4</text>
<line x1="290.90" y1="463.82" x2="292.10" y2="463.82" stroke="#555" stroke-width="0.5"/>
<text x="284.24" y="484.00" font-size="8.16" textLength="4.49" lengthAdjust="spacingAndGlyphs" font-weight="bold" stroke="#000" stroke-width="0.049" >3</text>
<line x1="290.90" y1="481.30" x2="292.10" y2="481.30" stroke="#555" stroke-width="0.5"/>
<text x="284.26" y="501.48" font-size="8.16" textLength="4.49" lengthAdjust="spacingAndGlyphs" font-weight="bold" stroke="#000" stroke-width="0.049" >2</text>
<line x1="290.90" y1="498.78" x2="292.10" y2="498.78" stroke="#555" stroke-width="0.5"/>
<text x="284.12" y="518.96" font-size="8.18" textLength="4.50" lengthAdjust="spacingAndGlyphs" font-weight="bold" stroke="#000" stroke-width="0.049" >1</text>
<line x1="290.90" y1="516.26" x2="292.10" y2="516.26" stroke="#555" stroke-width="0.5"/>
<text x="300.73" y="534.90" font-size="7.42" textLength="4.08" lengthAdjust="spacingAndGlyphs" font-weight="bold" stroke="#000" stroke-width="0.045" >1</text>
<line x1="302.89" y1="525.00" x2="302.89" y2="526.20" stroke="#555" stroke-width="0.5"/>
<text x="322.44" y="534.90" font-size="7.40" textLength="4.07" lengthAdjust="spacingAndGlyphs" font-weight="bold" stroke="#000" stroke-width="0.044" >2</text>
<line x1="324.47" y1="525.00" x2="324.47" y2="526.20" stroke="#555" stroke-width="0.5"/>
<text x="344.00" y="534.90" font-size="7.40" textLength="4.07" lengthAdjust="spacingAndGlyphs" font-weight="bold" stroke="#000" stroke-width="0.044" >3</text>
<line x1="346.05" y1="525.00" x2="346.05" y2="526.20" stroke="#555" stroke-width="0.5"/>
<text x="365.60" y="534.90" font-size="7.44" textLength="4.09" lengthAdjust="spacingAndGlyphs" font-weight="bold" stroke="#000" stroke-width="0.045" >4</text>
<line x1="367.63" y1="525.00" x2="367.63" y2="526.20" stroke="#555" stroke-width="0.5"/>
<text x="387.14" y="534.90" font-size="7.48" textLength="4.12" lengthAdjust="spacingAndGlyphs" font-weight="bold" stroke="#000" stroke-width="0.045" >5</text>
<line x1="389.21" y1="525.00" x2="389.21" y2="526.20" stroke="#555" stroke-width="0.5"/>
<text x="328.43" y="542.00" font-size="9.37" textLength="39.70" lengthAdjust="spacingAndGlyphs" font-weight="bold" stroke="#000" stroke-width="0.056" >Cycle25</text>
</svg></body></html>
